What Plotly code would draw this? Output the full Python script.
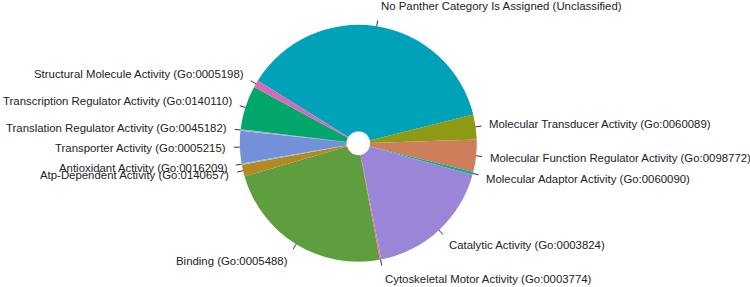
import math
import plotly.graph_objects as go

categories = [
    "No Panther Category Is Assigned (Unclassified)",
    "Molecular Transducer Activity (Go:0060089)",
    "Molecular Function Regulator Activity (Go:0098772)",
    "Molecular Adaptor Activity (Go:0060090)",
    "Catalytic Activity (Go:0003824)",
    "Cytoskeletal Motor Activity (Go:0003774)",
    "Binding (Go:0005488)",
    "Atp-Dependent Activity (Go:0140657)",
    "Antioxidant Activity (Go:0016209)",
    "Transporter Activity (Go:0005215)",
    "Translation Regulator Activity (Go:0045182)",
    "Transcription Regulator Activity (Go:0140110)",
    "Structural Molecule Activity (Go:0005198)",
]
counts = [186, 17, 22, 2, 88, 1, 117, 8, 1, 22, 1, 30, 5]
colors = [
    "#00A2BA", "#8E9A14", "#CD7E5B", "#14AA8C", "#9A85D6", "#E6708E",
    "#5E9E3F", "#B38A22", "#96BEDC", "#7390D8", "#B4AADC", "#00A66A", "#D46BB8",
]

W, H = 750, 287
CX, CY, R = 358.3, 143.3, 118.5
START_DEG = 302  # first slice starts here, clockwise from 12 o'clock

fig = go.Figure(go.Pie(
    labels=categories,
    values=counts,
    sort=False,
    direction="clockwise",
    rotation=START_DEG,
    hole=0.1,
    textinfo="none",
    hoverinfo="label+value+percent",
    marker=dict(colors=colors, line=dict(width=0)),
    domain=dict(x=[(CX - R) / W, (CX + R) / W], y=[1 - (CY + R) / H, 1 - (CY - R) / H]),
    showlegend=False,
))

total = sum(counts)
shapes, annotations = [], []
acc = 0
for lab, v in zip(categories, counts):
    mid = math.radians(START_DEG + (acc + v / 2) / total * 360)
    acc += v
    s, c = math.sin(mid), math.cos(mid)
    x0, y0 = CX + R * s, CY - R * c
    x1, y1 = CX + 1.05 * R * s, CY - 1.05 * R * c
    tx, ty = CX + 1.1 * R * s, CY - 1.17 * R * c
    shapes.append(dict(type="line", xref="paper", yref="paper",
                       x0=x0 / W, y0=1 - y0 / H, x1=x1 / W, y1=1 - y1 / H,
                       line=dict(color="#333333", width=1)))
    annotations.append(dict(text=lab, xref="paper", yref="paper",
                            x=tx / W, y=1 - ty / H, showarrow=False,
                            xanchor="left" if s > 0 else "right", yanchor="middle",
                            font=dict(family="Liberation Sans, Arial", size=11.4, color="#222222")))

fig.update_layout(
    width=W, height=H,
    margin=dict(l=0, r=0, t=0, b=0),
    paper_bgcolor="white", plot_bgcolor="white",
    shapes=shapes, annotations=annotations,
)
fig.write_html("out.html", config={"displayModeBar": False},
               post_script="document.body.style.margin='0';document.body.style.overflow='hidden';")
